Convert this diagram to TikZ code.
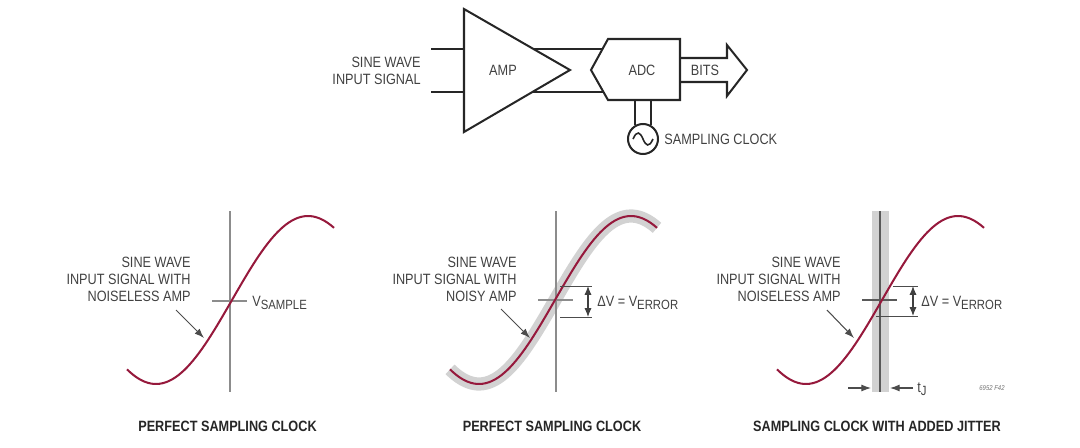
\documentclass[tikz,border=0pt]{standalone}
\usepackage{fontspec}
\setmainfont[FakeStretch=0.85]{Liberation Sans}
\usetikzlibrary{arrows.meta}
\definecolor{TraceRed}{RGB}{150, 25, 60}
\definecolor{BandGray}{RGB}{210, 210, 210}
\definecolor{AxisGray}{RGB}{140, 140, 140}
\definecolor{LabelGray}{RGB}{65, 65, 65}
\newcommand{\lowsub}[1]{\raisebox{-2pt}{\fontsize{7.6}{8}\selectfont #1}}
\newcommand{\sinetrace}[1]{plot[domain=-105:102, samples=70] ({#1+\x}, {300-84*sin(\x*90/76)})}

\begin{document}
\begin{tikzpicture}[
          x=0.02cm, y=-0.02cm,
          txt/.style={inner sep=0, text=LabelGray, font=\fontsize{8.5}{9.6}\selectfont},
          note/.style={txt, anchor=east, align=right},
          caption/.style={inner sep=0, text=black!85, font=\fontsize{8.5}{9.6}\bfseries\selectfont},
          block/.style={draw=black!85, line width=1.15pt, line join=miter},
          axis/.style={draw=AxisGray, line width=0.7pt},
          wave/.style={draw=TraceRed, line width=1.15pt},
          band/.style={draw=BandGray, line width=7.5pt},
          jitter/.style={fill=BandGray, draw=none},
          dim/.style={draw=black!70, line width=0.5pt},
          dimarr/.style={{Latex[length=5pt,width=4pt]}-{Latex[length=5pt,width=4pt]}, draw=black!75, line width=0.6pt},
          lead/.style={-{Latex[length=5.5pt,width=4pt]}, draw=black!70, line width=0.6pt}
        ]
        \useasboundingbox (0,0) rectangle (1080,447);

        % block diagram on top
        \coordinate (ampTop) at (464,9);
        \coordinate (ampTip) at (570,70);
        \coordinate (ampBot) at (464,132);
        \coordinate (inA)    at (431,49);
        \coordinate (inB)    at (431,92);
        \coordinate (ampInA) at (464,49);
        \coordinate (ampInB) at (464,92);
        \coordinate (ampOutA) at (533,49);
        \coordinate (ampOutB) at (533,92);
        \coordinate (adcInA) at (603,49);
        \coordinate (adcInB) at (603,92);
        \coordinate (adcA) at (608,39);
        \coordinate (adcB) at (680,39);
        \coordinate (adcC) at (680,100);
        \coordinate (adcD) at (608,100);
        \coordinate (adcE) at (591,70);

        \draw[block] (ampTop) -- (ampTip) -- (ampBot) -- cycle;
        \draw[block] (adcA) -- (adcB) -- (adcC) -- (adcD) -- (adcE) -- cycle;
        \draw[block] (inA) -- (ampInA);
        \draw[block] (inB) -- (ampInB);
        \draw[block] (ampOutA) -- (adcInA);
        \draw[block] (ampOutB) -- (adcInB);
        \draw[block] (680,58) -- (727,58) -- (727,45) -- (747,70) -- (727,96) -- (727,82) -- (680,82);

        \node[draw=black!85, line width=1.15pt, circle, minimum size=30*0.02cm, inner sep=0] (clk) at (643,139) {};
        \coordinate (adcClkA) at (635,100);
        \coordinate (adcClkB) at (651,100);
        \draw[block] (adcClkA) -- (635,125);
        \draw[block] (adcClkB) -- (651,125);
        \draw[line width=0.9pt, draw=black!85] (633,139) .. controls (637,130) and (640,132) .. (643,139)
              .. controls (646,146) and (649,148) .. (653,139);

        \node[note] (input) at (421,70.5) {SINE WAVE\\INPUT SIGNAL};
        \node[txt] (amp)  at (503,70) {AMP};
        \node[txt] (adc)  at (642,70) {ADC};
        \node[txt] (bits) at (705,70) {BITS};
        \node[txt, anchor=west] (sampling) at (664,139) {SAMPLING CLOCK};

        % left panel
        \coordinate (axAtop) at (230,211);
        \coordinate (axAbot) at (230,392);
        \coordinate (tickAl) at (212,301);
        \coordinate (tickAr) at (247,301);
        \draw[axis] (axAtop) -- (axAbot);
        \draw[axis] (tickAl) -- (tickAr);
        \draw[wave] \sinetrace{232};
        \node[note] (noteA) at (191,279) {SINE WAVE\\INPUT SIGNAL WITH\\NOISELESS AMP};
        \coordinate (leadAs) at (176,310);
        \coordinate (leadAe) at (204,338);
        \draw[lead] (leadAs) -- (leadAe);
        \node[txt, anchor=west] (vsample) at (252,303) {V\lowsub{SAMPLE}};
        \node[caption] (capA) at (227.5,426) {PERFECT SAMPLING CLOCK};

        % middle panel
        \draw[band] \sinetrace{555};
        \coordinate (axBtop) at (556,211);
        \coordinate (axBbot) at (556,392);
        \coordinate (tickBl) at (538,300);
        \coordinate (tickBr) at (573,300);
        \draw[axis] (axBtop) -- (axBbot);
        \draw[axis] (tickBl) -- (tickBr);
        \draw[wave] \sinetrace{555};
        \coordinate (dimBa) at (560,286);
        \coordinate (dimBb) at (592,286);
        \coordinate (dimBc) at (560,317);
        \coordinate (dimBd) at (592,317);
        \coordinate (dimBu) at (588,286);
        \coordinate (dimBl) at (588,317);
        \draw[dim] (dimBa) -- (dimBb);
        \draw[dim] (dimBc) -- (dimBd);
        \draw[dimarr] (dimBu) -- (dimBl);
        \node[note] (noteB) at (517,279) {SINE WAVE\\INPUT SIGNAL WITH\\NOISY AMP};
        \coordinate (leadBs) at (501,309);
        \coordinate (leadBe) at (530,338);
        \draw[lead] (leadBs) -- (leadBe);
        \node[txt, anchor=west] (verrB) at (597,303) {ΔV = V\lowsub{ERROR}};
        \node[caption] (capB) at (552,426) {PERFECT SAMPLING CLOCK};

        % right panel
        \coordinate (jitA) at (872,211);
        \coordinate (jitB) at (889,392);
        \fill[jitter] (jitA) rectangle (jitB);
        \coordinate (axCtop) at (880,211);
        \coordinate (axCbot) at (880,392);
        \coordinate (tickCl) at (862,300);
        \coordinate (tickCr) at (897,300);
        \draw[draw=black!65, line width=0.7pt] (axCtop) -- (axCbot);
        \draw[draw=black!65, line width=0.6pt] (tickCl) -- (tickCr);
        \draw[wave] \sinetrace{882};
        \coordinate (dimCa) at (893,286);
        \coordinate (dimCb) at (918,286);
        \coordinate (dimCc) at (876,316);
        \coordinate (dimCd) at (918,316);
        \coordinate (dimCu) at (913,286);
        \coordinate (dimCl) at (913,316);
        \draw[dim] (dimCa) -- (dimCb);
        \draw[dim] (dimCc) -- (dimCd);
        \draw[dimarr] (dimCu) -- (dimCl);
        \node[note] (noteC) at (841,279) {SINE WAVE\\INPUT SIGNAL WITH\\NOISELESS AMP};
        \coordinate (leadCs) at (827,310);
        \coordinate (leadCe) at (854,338);
        \draw[lead] (leadCs) -- (leadCe);
        \node[txt, anchor=west] (verrC) at (921,303) {ΔV = V\lowsub{ERROR}};
        \coordinate (tjAs) at (848,388);
        \coordinate (tjAe) at (871,388);
        \coordinate (tjBs) at (913,388);
        \coordinate (tjBe) at (890,388);
        \draw[lead] (tjAs) -- (tjAe);
        \draw[lead] (tjBs) -- (tjBe);
        \node[txt, anchor=west] (tj) at (917,389) {t\lowsub{J}};
        \node[inner sep=0, text=black!55, font=\fontsize{4}{5}\itshape\selectfont] (figno) at (992,388) {6952 F42};
        \node[caption] (capC) at (877,426) {SAMPLING CLOCK WITH ADDED JITTER};
      \end{tikzpicture}
\end{document}
